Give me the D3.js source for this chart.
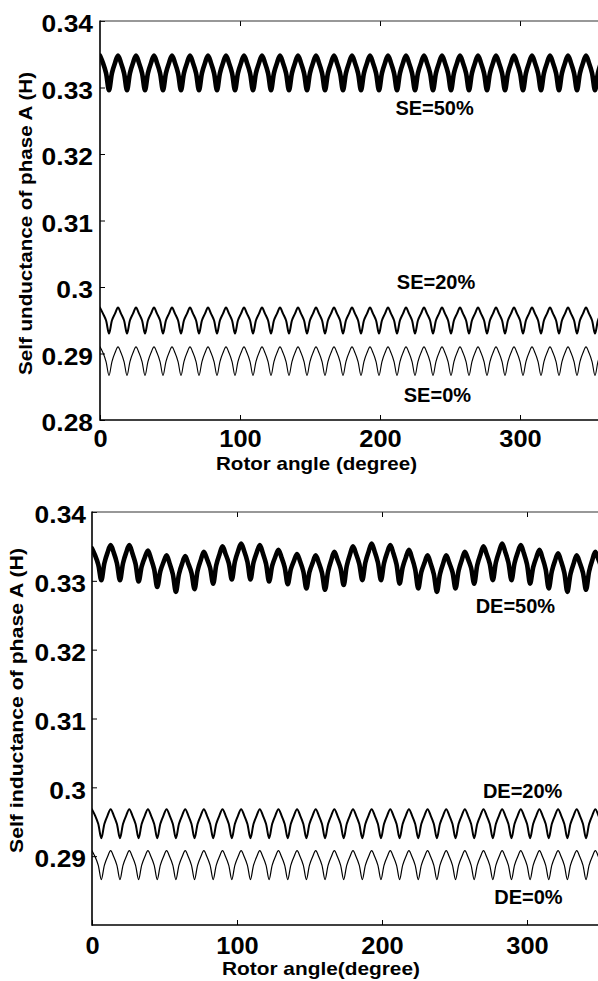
<!DOCTYPE html>
<html><head><meta charset="utf-8">
<script src="https://cdn.jsdelivr.net/npm/d3@7"></script>
<style>
body{margin:0;background:#fff}
svg{display:block;background:#fff}
text{font-family:"Liberation Sans",Arial,Helvetica,sans-serif;font-weight:bold;fill:#000}
</style>
</head><body>
<svg id="c" width="598" height="981"></svg>
<script>
// ---------- data ----------
const xTicks = [0, 100, 200, 300];
const yTicksTop = [0.28, 0.29, 0.30, 0.31, 0.32, 0.33, 0.34];
const yTicksBottom = [0.29, 0.30, 0.31, 0.32, 0.33, 0.34];
const yTickFmt = d3.format(".2~f");
// sampling grid of the rotor angle (degrees), 6 samples per slot period
const angles = d3.range(169).map(i => i * 360 / 168);

const se0 = [
0.2910,0.2901,0.2888,0.2867,0.2888,0.2901, 0.2910,0.2901,0.2888,0.2867,0.2888,0.2901, 0.2910,0.2901,0.2888,0.2867,0.2888,0.2901, 0.2910,0.2901,0.2888,0.2867,0.2888,0.2901,
0.2910,0.2901,0.2888,0.2867,0.2888,0.2901, 0.2910,0.2901,0.2888,0.2867,0.2888,0.2901, 0.2910,0.2901,0.2888,0.2867,0.2888,0.2901, 0.2910,0.2901,0.2888,0.2867,0.2888,0.2901,
0.2910,0.2901,0.2888,0.2867,0.2888,0.2901, 0.2910,0.2901,0.2888,0.2867,0.2888,0.2901, 0.2910,0.2901,0.2888,0.2867,0.2888,0.2901, 0.2910,0.2901,0.2888,0.2867,0.2888,0.2901,
0.2910,0.2901,0.2888,0.2867,0.2888,0.2901, 0.2910,0.2901,0.2888,0.2867,0.2888,0.2901, 0.2910,0.2901,0.2888,0.2867,0.2888,0.2901, 0.2910,0.2901,0.2888,0.2867,0.2888,0.2901,
0.2910,0.2901,0.2888,0.2867,0.2888,0.2901, 0.2910,0.2901,0.2888,0.2867,0.2888,0.2901, 0.2910,0.2901,0.2888,0.2867,0.2888,0.2901, 0.2910,0.2901,0.2888,0.2867,0.2888,0.2901,
0.2910,0.2901,0.2888,0.2867,0.2888,0.2901, 0.2910,0.2901,0.2888,0.2867,0.2888,0.2901, 0.2910,0.2901,0.2888,0.2867,0.2888,0.2901, 0.2910,0.2901,0.2888,0.2867,0.2888,0.2901,
0.2910,0.2901,0.2888,0.2867,0.2888,0.2901, 0.2910,0.2901,0.2888,0.2867,0.2888,0.2901, 0.2910,0.2901,0.2888,0.2867,0.2888,0.2901, 0.2910,0.2901,0.2888,0.2867,0.2888,0.2901,
0.2910];

const se20 = [
0.2969,0.2960,0.2950,0.2930,0.2950,0.2960, 0.2969,0.2960,0.2950,0.2930,0.2950,0.2960, 0.2969,0.2960,0.2950,0.2930,0.2950,0.2960, 0.2969,0.2960,0.2950,0.2930,0.2950,0.2960,
0.2969,0.2960,0.2950,0.2930,0.2950,0.2960, 0.2969,0.2960,0.2950,0.2930,0.2950,0.2960, 0.2969,0.2960,0.2950,0.2930,0.2950,0.2960, 0.2969,0.2960,0.2950,0.2930,0.2950,0.2960,
0.2969,0.2960,0.2950,0.2930,0.2950,0.2960, 0.2969,0.2960,0.2950,0.2930,0.2950,0.2960, 0.2969,0.2960,0.2950,0.2930,0.2950,0.2960, 0.2969,0.2960,0.2950,0.2930,0.2950,0.2960,
0.2969,0.2960,0.2950,0.2930,0.2950,0.2960, 0.2969,0.2960,0.2950,0.2930,0.2950,0.2960, 0.2969,0.2960,0.2950,0.2930,0.2950,0.2960, 0.2969,0.2960,0.2950,0.2930,0.2950,0.2960,
0.2969,0.2960,0.2950,0.2930,0.2950,0.2960, 0.2969,0.2960,0.2950,0.2930,0.2950,0.2960, 0.2969,0.2960,0.2950,0.2930,0.2950,0.2960, 0.2969,0.2960,0.2950,0.2930,0.2950,0.2960,
0.2969,0.2960,0.2950,0.2930,0.2950,0.2960, 0.2969,0.2960,0.2950,0.2930,0.2950,0.2960, 0.2969,0.2960,0.2950,0.2930,0.2950,0.2960, 0.2969,0.2960,0.2950,0.2930,0.2950,0.2960,
0.2969,0.2960,0.2950,0.2930,0.2950,0.2960, 0.2969,0.2960,0.2950,0.2930,0.2950,0.2960, 0.2969,0.2960,0.2950,0.2930,0.2950,0.2960, 0.2969,0.2960,0.2950,0.2930,0.2950,0.2960,
0.2969];

const se50 = [
0.3348,0.3337,0.3322,0.3296,0.3322,0.3337, 0.3348,0.3337,0.3322,0.3296,0.3322,0.3337, 0.3348,0.3337,0.3322,0.3296,0.3322,0.3337, 0.3348,0.3337,0.3322,0.3296,0.3322,0.3337,
0.3348,0.3337,0.3322,0.3296,0.3322,0.3337, 0.3348,0.3337,0.3322,0.3296,0.3322,0.3337, 0.3348,0.3337,0.3322,0.3296,0.3322,0.3337, 0.3348,0.3337,0.3322,0.3296,0.3322,0.3337,
0.3348,0.3337,0.3322,0.3296,0.3322,0.3337, 0.3348,0.3337,0.3322,0.3296,0.3322,0.3337, 0.3348,0.3337,0.3322,0.3296,0.3322,0.3337, 0.3348,0.3337,0.3322,0.3296,0.3322,0.3337,
0.3348,0.3337,0.3322,0.3296,0.3322,0.3337, 0.3348,0.3337,0.3322,0.3296,0.3322,0.3337, 0.3348,0.3337,0.3322,0.3296,0.3322,0.3337, 0.3348,0.3337,0.3322,0.3296,0.3322,0.3337,
0.3348,0.3337,0.3322,0.3296,0.3322,0.3337, 0.3348,0.3337,0.3322,0.3296,0.3322,0.3337, 0.3348,0.3337,0.3322,0.3296,0.3322,0.3337, 0.3348,0.3337,0.3322,0.3296,0.3322,0.3337,
0.3348,0.3337,0.3322,0.3296,0.3322,0.3337, 0.3348,0.3337,0.3322,0.3296,0.3322,0.3337, 0.3348,0.3337,0.3322,0.3296,0.3322,0.3337, 0.3348,0.3337,0.3322,0.3296,0.3322,0.3337,
0.3348,0.3337,0.3322,0.3296,0.3322,0.3337, 0.3348,0.3337,0.3322,0.3296,0.3322,0.3337, 0.3348,0.3337,0.3322,0.3296,0.3322,0.3337, 0.3348,0.3337,0.3322,0.3296,0.3322,0.3337,
0.3348];

const de0 = [
0.2908,0.2899,0.2887,0.2866,0.2887,0.2899, 0.2908,0.2899,0.2887,0.2866,0.2887,0.2899, 0.2908,0.2899,0.2887,0.2866,0.2887,0.2899, 0.2908,0.2899,0.2887,0.2866,0.2887,0.2899,
0.2908,0.2899,0.2887,0.2866,0.2887,0.2899, 0.2908,0.2899,0.2887,0.2866,0.2887,0.2899, 0.2908,0.2899,0.2887,0.2866,0.2887,0.2899, 0.2908,0.2899,0.2887,0.2866,0.2887,0.2899,
0.2908,0.2899,0.2887,0.2866,0.2887,0.2899, 0.2908,0.2899,0.2887,0.2866,0.2887,0.2899, 0.2908,0.2899,0.2887,0.2866,0.2887,0.2899, 0.2908,0.2899,0.2887,0.2866,0.2887,0.2899,
0.2908,0.2899,0.2887,0.2866,0.2887,0.2899, 0.2908,0.2899,0.2887,0.2866,0.2887,0.2899, 0.2908,0.2899,0.2887,0.2866,0.2887,0.2899, 0.2908,0.2899,0.2887,0.2866,0.2887,0.2899,
0.2908,0.2899,0.2887,0.2866,0.2887,0.2899, 0.2908,0.2899,0.2887,0.2866,0.2887,0.2899, 0.2908,0.2899,0.2887,0.2866,0.2887,0.2899, 0.2908,0.2899,0.2887,0.2866,0.2887,0.2899,
0.2908,0.2899,0.2887,0.2866,0.2887,0.2899, 0.2908,0.2899,0.2887,0.2866,0.2887,0.2899, 0.2908,0.2899,0.2887,0.2866,0.2887,0.2899, 0.2908,0.2899,0.2887,0.2866,0.2887,0.2899,
0.2908,0.2899,0.2887,0.2866,0.2887,0.2899, 0.2908,0.2899,0.2887,0.2866,0.2887,0.2899, 0.2908,0.2899,0.2887,0.2866,0.2887,0.2899, 0.2908,0.2899,0.2887,0.2866,0.2887,0.2899,
0.2908];

const de20 = [
0.2968,0.2959,0.2947,0.2926,0.2947,0.2959, 0.2968,0.2959,0.2947,0.2926,0.2947,0.2959, 0.2968,0.2959,0.2947,0.2926,0.2947,0.2959, 0.2968,0.2959,0.2947,0.2926,0.2947,0.2959,
0.2968,0.2959,0.2947,0.2926,0.2947,0.2959, 0.2968,0.2959,0.2947,0.2926,0.2947,0.2959, 0.2968,0.2959,0.2947,0.2926,0.2947,0.2959, 0.2968,0.2959,0.2947,0.2926,0.2947,0.2959,
0.2968,0.2959,0.2947,0.2926,0.2947,0.2959, 0.2968,0.2959,0.2947,0.2926,0.2947,0.2959, 0.2968,0.2959,0.2947,0.2926,0.2947,0.2959, 0.2968,0.2959,0.2947,0.2926,0.2947,0.2959,
0.2968,0.2959,0.2947,0.2926,0.2947,0.2959, 0.2968,0.2959,0.2947,0.2926,0.2947,0.2959, 0.2968,0.2959,0.2947,0.2926,0.2947,0.2959, 0.2968,0.2959,0.2947,0.2926,0.2947,0.2959,
0.2968,0.2959,0.2947,0.2926,0.2947,0.2959, 0.2968,0.2959,0.2947,0.2926,0.2947,0.2959, 0.2968,0.2959,0.2947,0.2926,0.2947,0.2959, 0.2968,0.2959,0.2947,0.2926,0.2947,0.2959,
0.2968,0.2959,0.2947,0.2926,0.2947,0.2959, 0.2968,0.2959,0.2947,0.2926,0.2947,0.2959, 0.2968,0.2959,0.2947,0.2926,0.2947,0.2959, 0.2968,0.2959,0.2947,0.2926,0.2947,0.2959,
0.2968,0.2959,0.2947,0.2926,0.2947,0.2959, 0.2968,0.2959,0.2947,0.2926,0.2947,0.2959, 0.2968,0.2959,0.2947,0.2926,0.2947,0.2959, 0.2968,0.2959,0.2947,0.2926,0.2947,0.2959,
0.2968];

const de50 = [
0.3347,0.3337,0.3324,0.3301,0.3326,0.3341, 0.3352,0.3341,0.3326,0.3301,0.3326,0.3341, 0.3352,0.3340,0.3325,0.3299,0.3321,0.3334, 0.3344,0.3332,0.3317,0.3291,0.3314,0.3327,
0.3337,0.3325,0.3310,0.3284,0.3310,0.3325, 0.3336,0.3325,0.3312,0.3288,0.3315,0.3330, 0.3342,0.3332,0.3319,0.3296,0.3323,0.3338, 0.3350,0.3339,0.3326,0.3302,0.3328,0.3343,
0.3354,0.3343,0.3328,0.3302,0.3327,0.3341, 0.3352,0.3340,0.3325,0.3299,0.3322,0.3335, 0.3345,0.3334,0.3320,0.3295,0.3317,0.3329, 0.3339,0.3328,0.3314,0.3289,0.3313,0.3326,
0.3337,0.3326,0.3312,0.3287,0.3314,0.3330, 0.3342,0.3331,0.3318,0.3294,0.3322,0.3338, 0.3350,0.3339,0.3325,0.3301,0.3327,0.3342, 0.3354,0.3342,0.3327,0.3301,0.3326,0.3341,
0.3352,0.3340,0.3324,0.3296,0.3320,0.3334, 0.3345,0.3333,0.3317,0.3289,0.3313,0.3326, 0.3337,0.3325,0.3310,0.3284,0.3310,0.3325, 0.3337,0.3326,0.3313,0.3289,0.3315,0.3330,
0.3342,0.3332,0.3319,0.3296,0.3323,0.3338, 0.3350,0.3339,0.3325,0.3301,0.3327,0.3342, 0.3354,0.3342,0.3327,0.3301,0.3326,0.3341, 0.3352,0.3340,0.3324,0.3296,0.3320,0.3334,
0.3345,0.3333,0.3317,0.3289,0.3314,0.3329, 0.3340,0.3328,0.3312,0.3284,0.3310,0.3325, 0.3337,0.3326,0.3312,0.3287,0.3314,0.3330, 0.3342,0.3331,0.3318,0.3294,0.3322,0.3338,
0.3350];

const topSeries = [
  {name:"SE=50%", values:se50, width:4.6},
  {name:"SE=20%", values:se20, width:2.0},
  {name:"SE=0%",  values:se0,  width:1.1}
];
const bottomSeries = [
  {name:"DE=50%", values:de50, width:4.6},
  {name:"DE=20%", values:de20, width:2.0},
  {name:"DE=0%",  values:de0,  width:1.2}
];
// label anchors in data units [text, angle, inductance]
const topLabels = [["SE=50%",239,0.3259],["SE=20%",240,0.2997],["SE=0%",241,0.2827]];
const bottomLabels = [["DE=50%",292,0.3253],["DE=20%",297,0.2984],["DE=0%",301,0.2831]];

// ---------- drawing ----------
const svg = d3.select("#c");
const W = 598;

function stretch(sel, k){
  sel.each(function(){
    const w = this.getComputedTextLength();
    d3.select(this).attr("textLength", w*k).attr("lengthAdjust","spacingAndGlyphs");
  });
}

function panel(o){
  const x = d3.scaleLinear().domain([0,360]).range([o.left, o.right]);
  const y = d3.scaleLinear().domain([0.28,0.34]).range([o.bottom, o.top]);
  const g = svg.append("g");

  const clipId = "clip"+o.id;
  svg.append("clipPath").attr("id",clipId).append("rect")
    .attr("x",o.left).attr("y",o.top).attr("width",W-o.left).attr("height",o.bottom-o.top);

  // series
  const line = d3.line().x((d,i)=>x(angles[i])).y(d=>y(d)).curve(d3.curveCatmullRom.alpha(0.5));
  g.append("g").attr("clip-path",`url(#${clipId})`)
    .selectAll("path").data(o.series).join("path")
    .attr("d",d=>line(d.values)).attr("fill","none")
    .attr("stroke","#000").attr("stroke-width",d=>d.width)
    .attr("stroke-linejoin","round").attr("stroke-linecap","round");

  // axes ticks
  const ax = g.append("g").attr("transform",`translate(0,${o.bottom})`)
    .call(d3.axisBottom(x).tickValues(xTicks).tickSizeInner(-5).tickSizeOuter(0).tickPadding(o.xPad));
  ax.select(".domain").remove();
  ax.selectAll("text").attr("font-size",24).attr("font-family",null).attr("dy","0.71em");
  stretch(ax.selectAll("text"),1.06);

  const axt = g.append("g").attr("transform",`translate(0,${o.top})`)
    .call(d3.axisTop(x).tickValues(xTicks.filter(v=>v>0)).tickSizeInner(-5).tickSizeOuter(0).tickFormat(""));
  axt.select(".domain").remove();

  const ay = g.append("g").attr("transform",`translate(${o.left},0)`)
    .call(d3.axisLeft(y).tickValues(o.yTicks).tickFormat(yTickFmt).tickSizeInner(-5).tickSizeOuter(0).tickPadding(o.yPad));
  ay.select(".domain").remove();
  ay.selectAll("text").attr("font-size",24).attr("font-family",null).attr("dy","0.45em");
  stretch(ay.selectAll("text"),1.1);
  g.selectAll(".tick line").attr("stroke","#000").attr("stroke-width",1);

  // frame
  g.append("line").attr("x1",o.left).attr("x2",W).attr("y1",o.top).attr("y2",o.top)
    .attr("stroke","#333").attr("stroke-width",1.2);
  g.append("line").attr("x1",o.left).attr("x2",o.left).attr("y1",o.top-0.6).attr("y2",o.bottom+0.8)
    .attr("stroke","#000").attr("stroke-width",1.6);
  g.append("line").attr("x1",o.left).attr("x2",W).attr("y1",o.bottom).attr("y2",o.bottom)
    .attr("stroke","#000").attr("stroke-width",1.6);

  // curve labels
  g.selectAll("text.lab").data(o.labels).join("text").attr("class","lab")
    .attr("x",d=>x(d[1])).attr("y",d=>y(d[2])).attr("text-anchor","middle")
    .attr("font-size",20).text(d=>d[0]);

  // axis titles
  g.append("text").attr("x",o.xTitle[0]).attr("y",o.xTitle[1]).attr("text-anchor","middle")
    .attr("font-size",18.5).attr("textLength",o.xTitle[2]).attr("lengthAdjust","spacingAndGlyphs")
    .text(o.xTitleText);
  g.append("text").attr("transform",`translate(${o.yTitle[0]},${o.yTitle[1]}) rotate(-90)`)
    .attr("text-anchor","middle").attr("font-size",18.5)
    .attr("textLength",o.yTitle[2]).attr("lengthAdjust","spacingAndGlyphs")
    .text(o.yTitleText);
}

panel({id:1,left:100,right:604,top:21,bottom:420,xPad:10,yPad:7,yTicks:yTicksTop,
  series:topSeries,labels:topLabels,
  xTitle:[316.5,470,201],xTitleText:"Rotor angle (degree)",
  yTitle:[31.5,223.5,303],yTitleText:"Self unductance of phase A (H)"});
panel({id:2,left:92,right:614,top:512,bottom:925,xPad:12,yPad:6,yTicks:yTicksBottom,
  series:bottomSeries,labels:bottomLabels,
  xTitle:[321,975,198],xTitleText:"Rotor angle(degree)",
  yTitle:[22.7,700.5,305],yTitleText:"Self inductance of phase A (H)"});
</script>
</body></html>
